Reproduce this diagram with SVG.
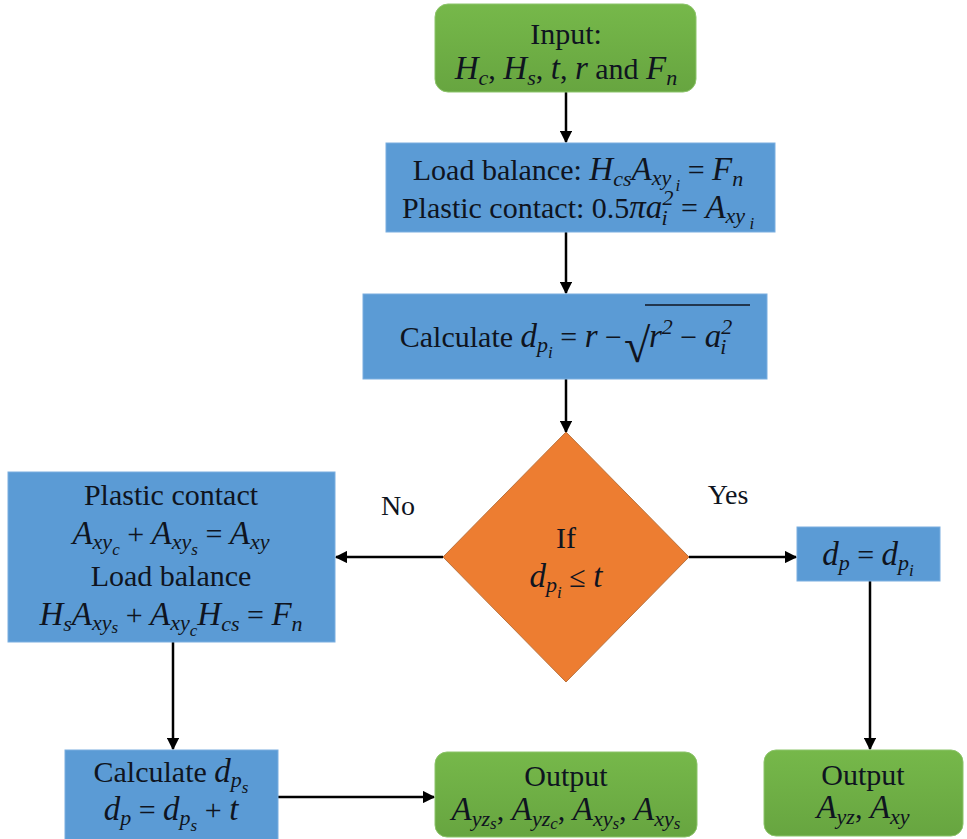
<svg xmlns="http://www.w3.org/2000/svg" width="967" height="839" viewBox="0 0 967 839">
  <defs>
    <marker id="arrow" viewBox="0 0 10 10" refX="9" refY="5" markerWidth="5" markerHeight="5" orient="auto" markerUnits="strokeWidth">
      <path d="M0,0 L10,5 L0,10 z" fill="#000"/>
    </marker>
    <linearGradient id="green" x1="0" y1="0" x2="0" y2="1">
      <stop offset="0" stop-color="#76b84a"/>
      <stop offset="1" stop-color="#67a540"/>
    </linearGradient>
  </defs>
  <style>
    .blue { fill: #5b9bd5; stroke: #7aaee0; stroke-width: 1; }
    .green { fill: url(#green); stroke: #8cc46a; stroke-width: 1; }
    .orange { fill: #ed7d31; stroke: #b9733f; stroke-width: 1; }
    text { font-family: 'Liberation Serif', 'Times New Roman', 'DejaVu Serif', serif; font-size: 30px; fill: #0f1420; }
    .t { text-anchor: middle; }
    .e { text-anchor: end; }
    .m { font-style: italic; font-size: 33px; }
    .s { font-size: 22px; font-style: italic; }
    .ss { font-size: 17px; font-style: italic; }
    .conn { stroke: #000; stroke-width: 2.5; fill: none; marker-end: url(#arrow); }
  </style>

  <!-- connectors -->
  <g id="connectors">
    <line class="conn" x1="566" y1="92" x2="566" y2="142"/>
    <line class="conn" x1="566" y1="232" x2="566" y2="293"/>
    <line class="conn" x1="566" y1="379" x2="566" y2="432"/>
    <line class="conn" x1="443" y1="557" x2="336" y2="557"/>
    <line class="conn" x1="689" y1="557" x2="796" y2="557"/>
    <line class="conn" x1="870" y1="581" x2="870" y2="749"/>
    <line class="conn" x1="173" y1="642" x2="173" y2="749"/>
    <line class="conn" x1="278" y1="797" x2="434" y2="797"/>
    <text class="t" x="398" y="515" style="font-size:28px">No</text>
    <text class="t" x="728" y="504" style="font-size:28px">Yes</text>
  </g>

  <!-- input -->
  <g id="input">
    <rect class="green" x="435" y="4" width="261" height="88" rx="13"/>
    <text class="t" x="566" y="44">Input:</text>
    <text class="t" x="566" y="79"><tspan class="m">H</tspan><tspan class="s" dy="6">c</tspan><tspan dy="-6">, </tspan><tspan class="m">H</tspan><tspan class="s" dy="6">s</tspan><tspan dy="-6">, </tspan><tspan class="m">t</tspan>, <tspan class="m">r</tspan> and <tspan class="m">F</tspan><tspan class="s" dy="6">n</tspan></text>
  </g>

  <!-- load balance / plastic contact -->
  <g id="balance">
    <rect class="blue" x="386" y="143" width="389" height="89"/>
    <text class="t" x="578" y="180">Load balance: <tspan class="m">H</tspan><tspan class="s" dy="6">cs</tspan><tspan class="m" dy="-6">A</tspan><tspan class="s" dy="5">xy</tspan><tspan class="ss" dy="6"> i</tspan><tspan dy="-11"> = </tspan><tspan class="m">F</tspan><tspan class="s" dy="6">n</tspan></text>
    <text class="t" x="578" y="218">Plastic contact: 0.5<tspan class="m">πa</tspan><tspan class="s" dy="-13">2</tspan><tspan class="s" dx="-12" dy="20">i</tspan><tspan dx="6" dy="-7"> = </tspan><tspan class="m">A</tspan><tspan class="s" dy="5">xy</tspan><tspan class="ss" dy="6"> i</tspan></text>
  </g>

  <!-- penetration depth -->
  <g id="calc-dpi">
    <rect class="blue" x="363" y="294" width="404" height="85"/>
    <text class="e" x="622" y="347">Calculate <tspan class="m">d</tspan><tspan class="s" dy="5">p</tspan><tspan class="ss" dy="6">i</tspan><tspan dy="-11"> = </tspan><tspan class="m">r</tspan> −</text>
    <text x="624" y="362" style="font-size:48px">√</text>
    <line x1="645" y1="305" x2="750" y2="305" stroke="#0f1420" stroke-width="1.6"/>
    <text x="649" y="347"><tspan class="m">r</tspan><tspan class="s" dy="-13">2</tspan><tspan dy="13"> − </tspan><tspan class="m">a</tspan><tspan class="s" dy="-13">2</tspan><tspan class="s" dx="-12" dy="20">i</tspan></text>
  </g>

  <!-- decision -->
  <g id="decision">
    <polygon class="orange" points="566,432 689,557 566,682 443,557"/>
    <text class="t" x="566" y="548">If</text>
    <text class="t" x="566" y="587"><tspan class="m">d</tspan><tspan class="s" dy="5">p</tspan><tspan class="ss" dy="6">i</tspan><tspan dy="-11"> ≤ </tspan><tspan class="m">t</tspan></text>
  </g>

  <!-- yes branch -->
  <g id="dp-equal">
    <rect class="blue" x="797" y="527" width="143" height="54"/>
    <text class="t" x="868" y="565"><tspan class="m">d</tspan><tspan class="s" dy="5">p</tspan><tspan dy="-5"> = </tspan><tspan class="m">d</tspan><tspan class="s" dy="5">p</tspan><tspan class="ss" dy="6">i</tspan></text>
  </g>

  <!-- no branch -->
  <g id="partial">
    <rect class="blue" x="8" y="472" width="327" height="170"/>
    <text class="t" x="171" y="505">Plastic contact</text>
    <text class="t" x="171" y="544"><tspan class="m">A</tspan><tspan class="s" dy="5">xy</tspan><tspan class="ss" dy="6">c</tspan><tspan dy="-11"> + </tspan><tspan class="m">A</tspan><tspan class="s" dy="5">xy</tspan><tspan class="ss" dy="6">s</tspan><tspan dy="-11"> = </tspan><tspan class="m">A</tspan><tspan class="s" dy="5">xy</tspan></text>
    <text class="t" x="171" y="586">Load balance</text>
    <text class="t" x="171" y="625"><tspan class="m">H</tspan><tspan class="s" dy="6">s</tspan><tspan class="m" dy="-6">A</tspan><tspan class="s" dy="5">xy</tspan><tspan class="ss" dy="3">s</tspan><tspan dy="-8"> + </tspan><tspan class="m">A</tspan><tspan class="s" dy="5">xy</tspan><tspan class="ss" dy="6">c</tspan><tspan class="m" dy="-11">H</tspan><tspan class="s" dy="6">cs</tspan><tspan dy="-6"> = </tspan><tspan class="m">F</tspan><tspan class="s" dy="6">n</tspan></text>
  </g>

  <g id="calc-dps">
    <rect class="blue" x="65" y="750" width="213" height="92"/>
    <text class="t" x="171" y="782">Calculate <tspan class="m">d</tspan><tspan class="s" dy="5">p</tspan><tspan class="ss" dy="6">s</tspan></text>
    <text class="t" x="171" y="820"><tspan class="m">d</tspan><tspan class="s" dy="5">p</tspan><tspan dy="-5"> = </tspan><tspan class="m">d</tspan><tspan class="s" dy="5">p</tspan><tspan class="ss" dy="6">s</tspan><tspan dy="-11"> + </tspan><tspan class="m">t</tspan></text>
  </g>

  <!-- outputs -->
  <g id="output-partial">
    <rect class="green" x="435" y="752" width="262" height="85" rx="12"/>
    <text class="t" x="566" y="786">Output</text>
    <text class="t" x="566" y="820"><tspan class="m">A</tspan><tspan class="s" dy="6">yz</tspan><tspan class="ss" dy="3">s</tspan><tspan dy="-9">, </tspan><tspan class="m">A</tspan><tspan class="s" dy="6">yz</tspan><tspan class="ss" dy="3">c</tspan><tspan dy="-9">, </tspan><tspan class="m">A</tspan><tspan class="s" dy="6">xy</tspan><tspan class="ss" dy="3">s</tspan><tspan dy="-9">, </tspan><tspan class="m">A</tspan><tspan class="s" dy="6">xy</tspan><tspan class="ss" dy="3">s</tspan></text>
  </g>

  <g id="output-full">
    <rect class="green" x="764" y="750" width="199" height="86" rx="12"/>
    <text class="t" x="863" y="785">Output</text>
    <text class="t" x="863" y="818"><tspan class="m">A</tspan><tspan class="s" dy="6">yz</tspan><tspan dy="-6">, </tspan><tspan class="m">A</tspan><tspan class="s" dy="6">xy</tspan></text>
  </g>
</svg>
